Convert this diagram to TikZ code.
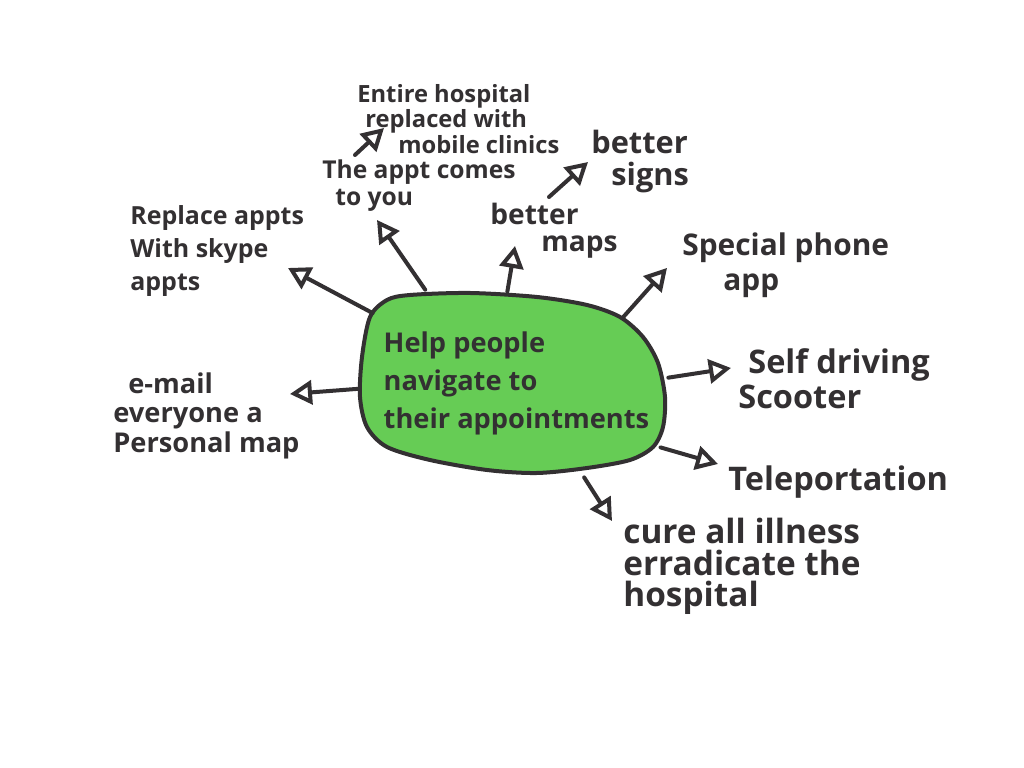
\documentclass[tikz,border=0pt]{standalone}
\usepackage{fontspec}
\setmainfont{Open Sans}
\usetikzlibrary{arrows.meta}

\definecolor{ink}{RGB}{51,48,50}
\definecolor{leaf}{RGB}{102,204,85}
\newcommand{\fs}[2]{\fontsize{#1}{#2}\selectfont\bfseries}

\tikzset{
  idea/.style={anchor=north west, inner sep=0pt, align=left, text=ink},
  hub/.style={inner sep=0pt, minimum width=61.4mm, minimum height=35.4mm},
  blob/.style={draw=ink, fill=leaf, line width=0.8mm},
  arr/.style={draw=ink, line width=0.8mm, line cap=round,
    -{Triangle[open, length=4.4mm, width=4.8mm, line width=0.8mm]}},
}

\begin{document}
\begin{tikzpicture}[x=0.2mm, y=-0.2mm]
    \useasboundingbox (0,0) rectangle (1024,768);

    % La mancha verde del centro.
    \draw[blob] plot[smooth cycle] coordinates {
        (370,317) (387,300) (410,295) (470,293) (537,297) (587,305)
        (620,317) (643,337) (658,363) (665,397) (663,427) (653,447)
        (630,460) (587,468) (537,473) (487,470) (430,460) (387,447)
        (367,427) (360,397) (362,357)};
    \node[hub, label={[idea, anchor=center, xshift=1mm, font=\fs{15.5}{21.6}]center:%
        Help people\\navigate to\\their appointments}] (hub) at (511.5,383.5) {};

    % Las ideas alrededor.
    \node[idea, font=\fs{13.5}{12.5}] (mobile) at (357,84)
        {Entire hospital\\\hspace*{1.6mm}replaced with\\\hspace*{8.2mm}mobile clinics};
    \node[idea, font=\fs{14}{15.5}] (comes) at (322,159)
        {The appt comes\\\hspace*{2.6mm}to you};
    \node[idea, font=\fs{14.2}{18.7}] (skype) at (130,205)
        {Replace appts\\With skype\\appts};
    \node[idea, font=\fs{16}{15}] (maps) at (490,203)
        {better\\\hspace*{10.2mm}maps};
    \node[idea, font=\fs{17.5}{18}] (signs) at (591,130)
        {better\\\hspace*{4mm}signs};
    \node[idea, font=\fs{17}{20}] (phone) at (682,232)
        {Special phone\\\hspace*{8.2mm}app};
    \node[idea, font=\fs{18.5}{20}] (scooter) at (738,348)
        {\hspace*{2mm}Self driving\\Scooter};
    \node[idea, font=\fs{18.5}{20}] (teleport) at (728,465)
        {Teleportation};
    \node[idea, font=\fs{19}{18}] (cure) at (623,518)
        {cure all illness\\erradicate the\\hospital};
    \node[idea, font=\fs{15.5}{17}] (email) at (113,372)
        {\hspace*{3mm}e-mail\\everyone a\\Personal map};

    % Puntas de las flechas.
    \coordinate (skype tip) at (288,268);
    \coordinate (comes tip) at (377,220);
    \coordinate (mobile tip) at (384,128);
    \coordinate (maps tip) at (515,246);
    \coordinate (signs tip) at (588,162);
    \coordinate (phone tip) at (667,268);
    \coordinate (scooter tip) at (731,368);
    \coordinate (teleport tip) at (718,464);
    \coordinate (cure tip) at (612,521);
    \coordinate (email tip) at (290,394);

    % Flechas desde la mancha hacia cada idea.
    \draw[arr, shorten <=-3.4mm] (hub.153) -- (skype tip);
    \draw[arr, shorten <=1.2mm] (hub.133) -- (comes tip);
    \draw[arr] ([xshift=6.6mm,yshift=0.8mm]comes.north west) -- (mobile tip);
    \draw[arr, shorten <=0.6mm] (hub.93) -- (maps tip);
    \draw[arr] ([xshift=11.8mm,yshift=1.2mm]maps.north west) -- (signs tip);
    \draw[arr, shorten <=-6.1mm] (hub.34) -- (phone tip);
    \draw[arr, shorten <=0.6mm] (hub.2) -- (scooter tip);
    \draw[arr, shorten <=-1mm] (hub.-23) -- (teleport tip);
    \draw[arr, shorten <=1.2mm] (hub.-52) -- (cure tip);
    \draw[arr] (hub.182) -- (email tip);
\end{tikzpicture}
\end{document}
